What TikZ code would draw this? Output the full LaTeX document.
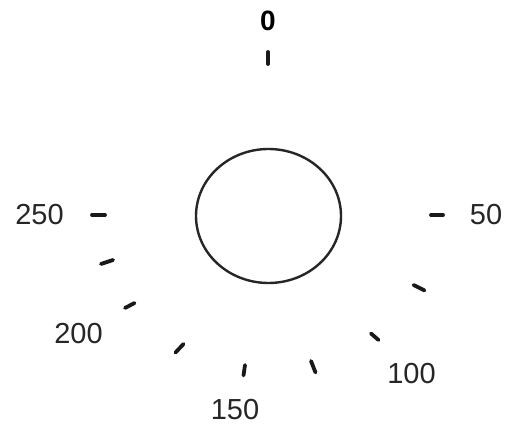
\documentclass[tikz,border=0pt]{standalone}
\usepackage{fontspec}
\setmainfont{Liberation Sans}
\begin{document}
\begin{tikzpicture}[x=1pt,y=-1pt,
  tick/.style={line width=3.8pt,line cap=round,black!90},
  dial/.style={line width=2.4pt,black!85},
  lbl/.style={inner sep=0pt,text=black!85,font=\fontsize{29}{31}\selectfont},
  zerolbl/.style={inner sep=0pt,text=black,font=\fontsize{28}{30}\selectfont\bfseries}]
\useasboundingbox (0,0) rectangle (506,427);
\fill[white] (0,0) rectangle (506,427);
% dial
\draw[dial] (268.5,216) ellipse [x radius=72.5, y radius=67];
% ticks
\draw[tick] (268,52) -- (268,64);
\draw[tick] (431,215) -- (443,215);
\draw[tick] (413.5,285) -- (424.5,290.5);
\draw[tick] (371,333.5) -- (378.5,340);
\draw[tick] (311,361) -- (315.5,372.5);
\draw[tick] (243.5,375.5) -- (245,365);
\draw[tick] (175.5,352.5) -- (183.5,344);
\draw[tick] (125,308) -- (134.5,303);
\draw[tick] (101,264) -- (113,260);
\draw[tick] (92,215) -- (105,215);
% labels
\node[zerolbl] (l0) at (268,21) {0};
\node[lbl] (l50) at (486,214.5) {50};
\node[lbl] (l100) at (411.5,374) {100};
\node[lbl] (l150) at (235,410) {150};
\node[lbl] (l200) at (78.5,333.5) {200};
\node[lbl] (l250) at (39.5,214.5) {250};
\end{tikzpicture}
\end{document}
